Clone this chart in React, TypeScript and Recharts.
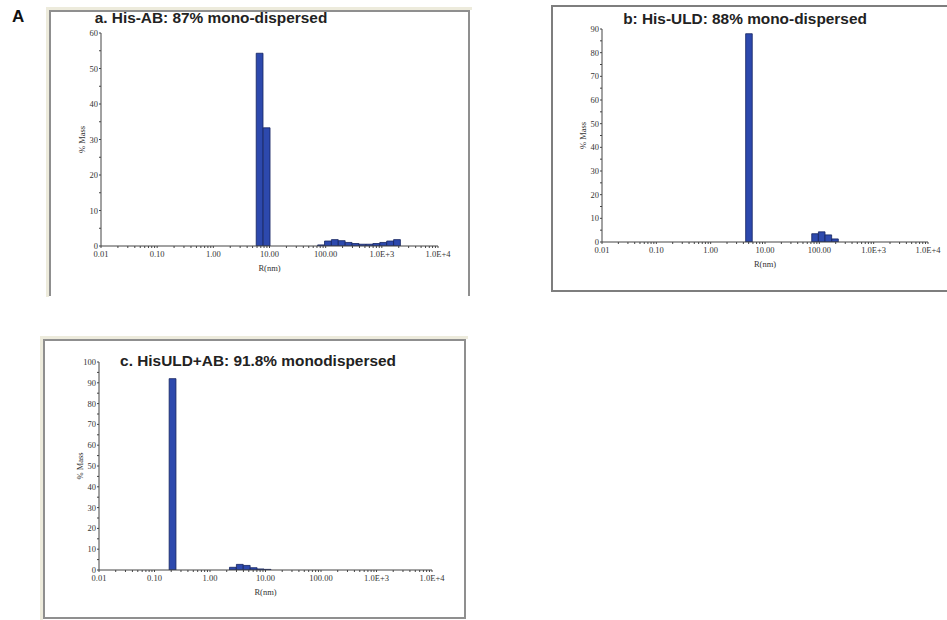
import React from 'react'
import { ComposedChart, Bar, XAxis, YAxis } from 'recharts'

// shared x axis: hydrodynamic radius R(nm), log scale, one tick per decade
const xDecades = [-2, -1, 0, 1, 2, 3, 4]
const xTickLabels = ['0.01', '0.10', '1.00', '10.00', '100.00', '1.0E+3', '1.0E+4']

// a. His-AB
const radiusA = [6.68, 8.91, 82.8, 109.9, 145.9, 193.6, 257.0, 341.2, 452.9, 601.2, 798.0, 1059, 1406, 1866]
const massA = [54.3, 33.3, 0.3, 1.4, 1.8, 1.5, 1.0, 0.7, 0.5, 0.5, 0.7, 1.0, 1.4, 1.8]

// b. His-ULD
const radiusB = [5.07, 83.4, 110.7, 146.6, 194.5]
const massB = [88, 3.5, 4.3, 3.0, 1.3]

// c. HisULD+AB
const radiusC = [0.212, 2.59, 3.45, 4.6, 6.14, 8.18, 10.91]
const massC = [92, 1.3, 2.7, 2.2, 1.1, 0.5, 0.3]

const minorX: number[] = []
xDecades.slice(0, -1).forEach((d) => {
  for (let k = 2; k <= 9; k++) minorX.push(d + Math.log10(k))
})
const xTicks = [...xDecades, ...minorX].sort((a, b) => a - b)

const tickStyle = { fontFamily: '"Liberation Serif", serif', fontSize: 8.5, fill: '#333', stroke: 'none' }
const axisColor = '#444'

type PanelProps = {
  plotLeft: number
  plotTop: number
  plotRight: number
  plotBottom: number
  yMax: number
  radius: number[]
  mass: number[]
  barSize: number
}

function Panel({ plotLeft, plotTop, plotRight, plotBottom, yMax, radius, mass, barSize }: PanelProps) {
  const yAxisW = 40
  const marginTop = 6
  const marginRight = 14
  const xAxisH = 32
  const chartLeft = plotLeft - yAxisW
  const chartTop = plotTop - marginTop
  const width = plotRight + marginRight - chartLeft
  const height = plotBottom + xAxisH - chartTop

  const data = radius.map((r, i) => ({ logR: Math.log10(r), mass: mass[i] }))
  const yTicks: number[] = []
  for (let v = 0; v <= yMax; v += 5) yTicks.push(v)

  return (
    <div style={{ position: 'absolute', left: chartLeft, top: chartTop }}>
      <ComposedChart width={width} height={height} data={data} margin={{ top: marginTop, right: marginRight, left: 0, bottom: 0 }}>
        <XAxis
          type="number"
          dataKey="logR"
          domain={[-2, 4]}
          allowDataOverflow
          ticks={xTicks}
          interval={0}
          height={xAxisH}
          tickSize={2}
          tickMargin={3}
          stroke={axisColor}
          tick={tickStyle}
          tickFormatter={(v: number) => {
            const i = xDecades.indexOf(v)
            return i >= 0 ? xTickLabels[i] : ''
          }}
          label={{ value: 'R(nm)', position: 'insideBottom', offset: 7, style: tickStyle }}
        />
        <YAxis
          type="number"
          domain={[0, yMax]}
          allowDataOverflow
          ticks={yTicks}
          interval={0}
          width={yAxisW}
          tickSize={2}
          tickMargin={1}
          stroke={axisColor}
          tick={tickStyle}
          tickFormatter={(v: number) => (v % 10 === 0 ? String(v) : '')}
          label={{ value: '% Mass', angle: -90, position: 'insideLeft', offset: 21, style: { ...tickStyle, textAnchor: 'middle' } }}
        />
        <Bar dataKey="mass" barSize={barSize} fill="#2d49ad" stroke="#14235f" strokeWidth={0.8} isAnimationActive={false} />
      </ComposedChart>
    </div>
  )
}

const titleStyle: React.CSSProperties = {
  position: 'absolute',
  fontFamily: '"Liberation Sans", Arial, sans-serif',
  fontWeight: 'bold',
  fontSize: 15.4,
  lineHeight: '16px',
  color: '#222',
  whiteSpace: 'nowrap',
  transform: 'translateX(-50%)',
}

export default function App() {
  return (
    <div style={{ position: 'absolute', left: 0, top: 0, width: 947, height: 620, overflow: 'hidden', background: '#fff' }}>
      {/* frames */}
      <div style={{ position: 'absolute', left: 46, top: 7, width: 426, height: 290, boxSizing: 'border-box', borderTop: '3px solid #edebdc', borderLeft: '3px solid #edebdc' }} />
      <div style={{ position: 'absolute', left: 49, top: 10, width: 421, height: 286, boxSizing: 'border-box', borderTop: '2px solid #8f8f8f', borderLeft: '2px solid #8f8f8f', borderRight: '2px solid #8f8f8f' }} />
      <div style={{ position: 'absolute', left: 551, top: 5, width: 400, height: 287, boxSizing: 'border-box', border: '2px solid #7e7e7e' }} />
      <div style={{ position: 'absolute', left: 40, top: 336, width: 428, height: 284, boxSizing: 'border-box', borderTop: '3px solid #edebdc', borderLeft: '3px solid #edebdc' }} />
      <div style={{ position: 'absolute', left: 43, top: 339, width: 423, height: 280, boxSizing: 'border-box', border: '2px solid #8f8f8f' }} />

      <div style={{ position: 'absolute', left: 12, top: 8, fontFamily: '"Liberation Sans", Arial, sans-serif', fontWeight: 'bold', fontSize: 17, lineHeight: '18px', color: '#111' }}>A</div>

      <div style={{ ...titleStyle, left: 211, top: 10 }}>a. His-AB: 87% mono-dispersed</div>
      <div style={{ ...titleStyle, left: 745, top: 11 }}>b: His-ULD: 88% mono-dispersed</div>
      <div style={{ ...titleStyle, left: 258, top: 353 }}>c. HisULD+AB: 91.8% monodispersed</div>

      <Panel plotLeft={101} plotTop={33} plotRight={438} plotBottom={246} yMax={60} radius={radiusA} mass={massA} barSize={6.8} />
      <Panel plotLeft={602} plotTop={29} plotRight={928} plotBottom={242} yMax={90} radius={radiusB} mass={massB} barSize={6.6} />
      <Panel plotLeft={99} plotTop={362} plotRight={432} plotBottom={570} yMax={100} radius={radiusC} mass={massC} barSize={6.8} />
    </div>
  )
}
